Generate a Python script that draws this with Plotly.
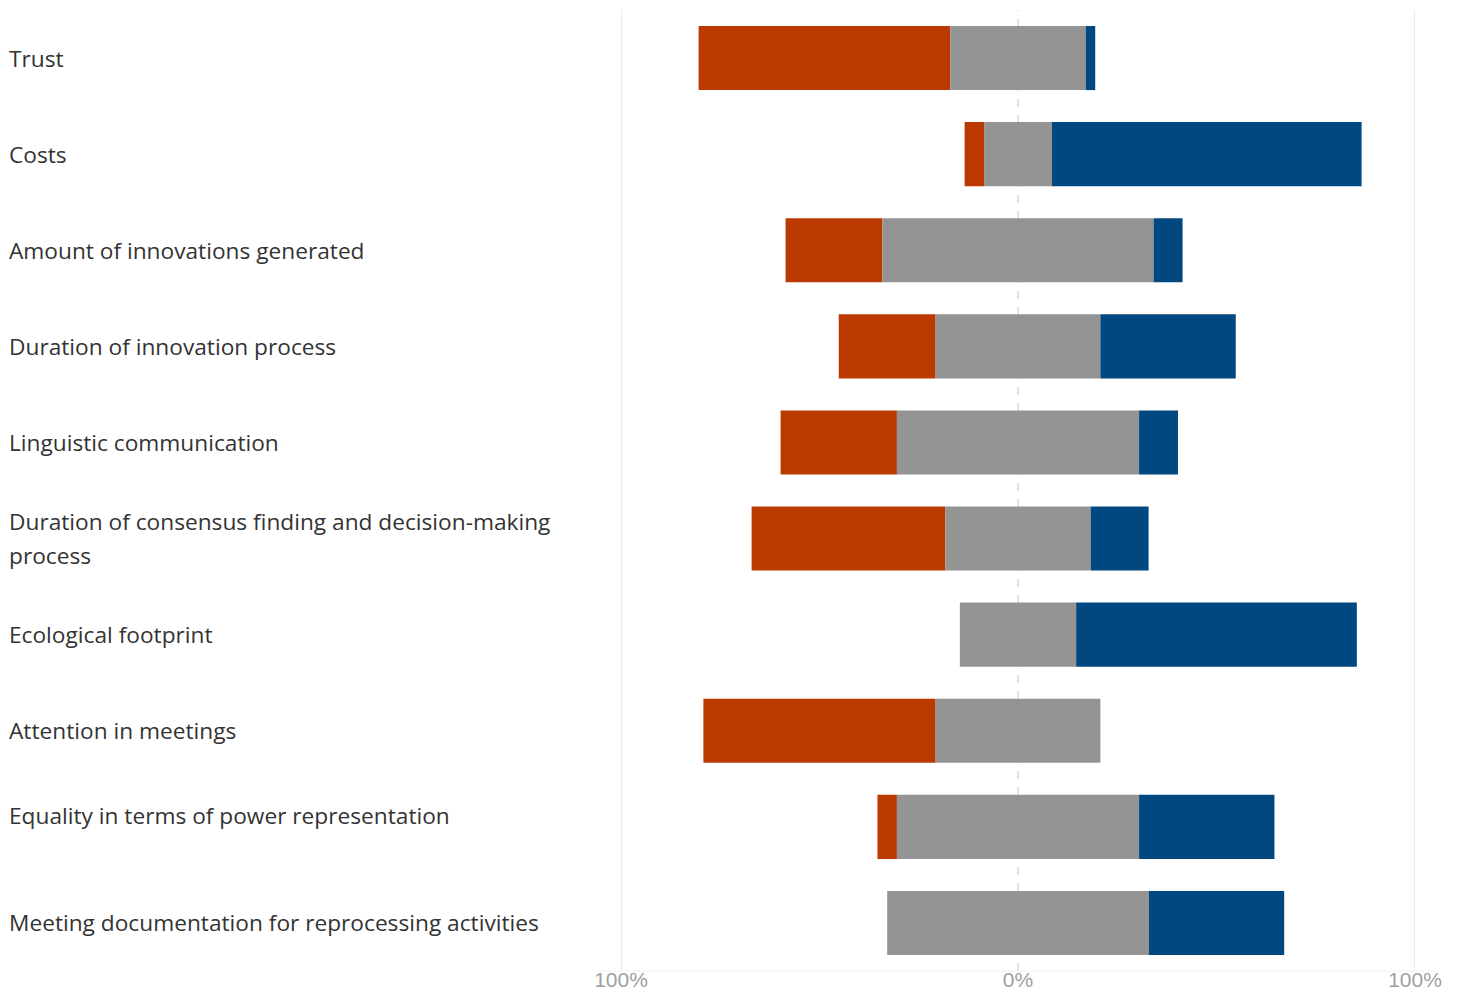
import plotly.graph_objects as go

categories = [
    "Trust",
    "Costs",
    "Amount of innovations generated",
    "Duration of innovation process",
    "Linguistic communication",
    "Duration of consensus finding and decision-making<br>process",
    "Ecological footprint",
    "Attention in meetings",
    "Equality in terms of power representation",
    "Meeting documentation for reprocessing activities",
]
negative = [63.4, 4.9, 24.4, 24.4, 29.3, 48.8, 0.0, 58.5, 4.9, 0.0]
neutral = [34.1, 17.1, 68.3, 41.5, 61.0, 36.6, 29.3, 41.5, 61.0, 65.9]
positive = [2.4, 78.0, 7.3, 34.1, 9.8, 14.6, 70.7, 0.0, 34.1, 34.1]

tick_vals = [-100, 0, 100]
tick_text = ["100%", "0%", "100%"]

RED = "#BB3A00"
GRAY = "#949494"
BLUE = "#00487F"

idx = list(range(len(categories)))
half = [n / 2 for n in neutral]

fig = go.Figure()
fig.add_trace(go.Bar(
    y=idx, x=negative, base=[-(h + n) for h, n in zip(half, negative)],
    orientation="h", marker=dict(color=RED, line=dict(width=0)), width=0.667,
    name="negative", hoverinfo="skip",
))
fig.add_trace(go.Bar(
    y=idx, x=neutral, base=[-h for h in half],
    orientation="h", marker=dict(color=GRAY, line=dict(width=0)), width=0.667,
    name="neutral", hoverinfo="skip",
))
fig.add_trace(go.Bar(
    y=idx, x=positive, base=half,
    orientation="h", marker=dict(color=BLUE, line=dict(width=0)), width=0.667,
    name="positive", hoverinfo="skip",
))

# gridlines
for v in (-100, 100):
    fig.add_shape(type="line", xref="x", yref="paper", x0=v, x1=v, y0=0, y1=1,
                  line=dict(color="#e3e3e3", width=1.5), layer="below")
fig.add_shape(type="line", xref="x", yref="paper", x0=0, x1=0, y0=0, y1=1,
              line=dict(color="#dcdcdc", width=1.5, dash="8px,8px"), layer="below")
fig.add_shape(type="line", xref="paper", yref="paper", x0=-0.03, x1=1.03, y0=0, y1=0,
              line=dict(color="#f0f0f0", width=1), layer="below")

# category labels
label_x = (7 - 621) / (1462 - 621 - 47)
label_shift = {8: 11}
for i, lab in enumerate(categories):
    lines = lab.split("<br>")
    n = len(lines)
    for j, line in enumerate(lines):
        shift = (n - 1) * 17 - j * 34 + label_shift.get(i, 0)
        fig.add_annotation(
            x=label_x, y=i, xref="paper", yref="y", text=line, showarrow=False,
            xanchor="left", yanchor="middle", yshift=shift,
            font=dict(family="Open Sans", size=22.7, color="#333333"),
        )

fig.update_layout(
    width=1462, height=994,
    margin=dict(l=621, r=47, t=10, b=23, autoexpand=False),
    plot_bgcolor="white", paper_bgcolor="white",
    barmode="overlay", showlegend=False,
    xaxis=dict(range=[-100, 100], tickvals=tick_vals, ticktext=tick_text,
               showgrid=False, zeroline=False, showline=False, automargin=False,
               ticklen=0, ticklabelstandoff=-6,
               tickfont=dict(family="Liberation Sans", size=21, color="#a0a0a0")),
    yaxis=dict(range=[9.5, -0.5], showticklabels=False, showgrid=False,
               zeroline=False, showline=False, automargin=False),
)

fig.write_html("out.html")
